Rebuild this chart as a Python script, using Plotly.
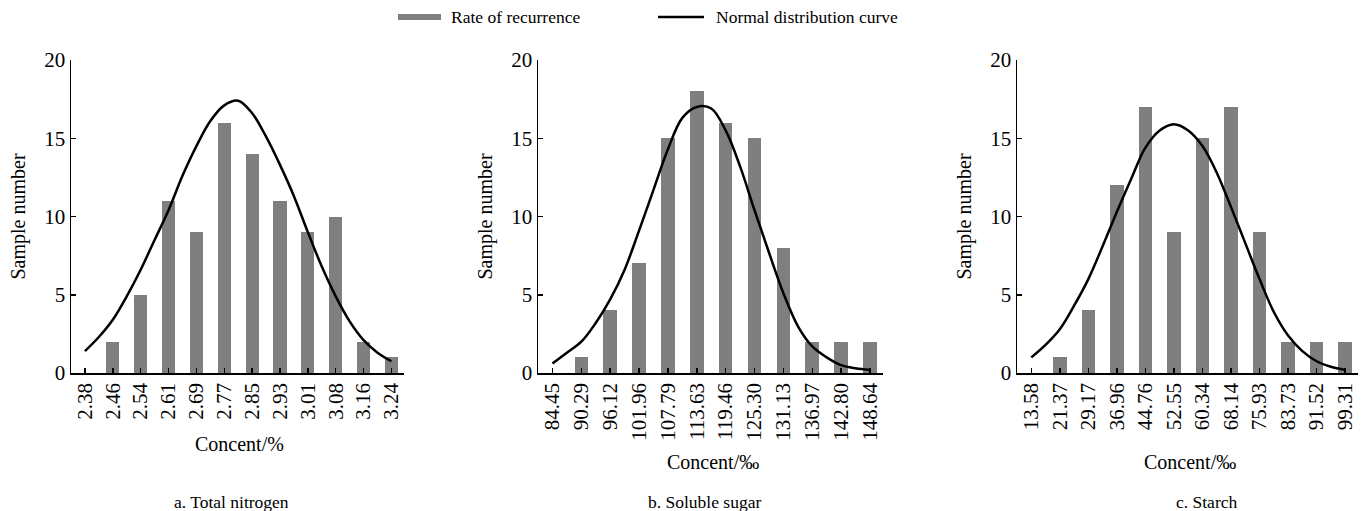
import plotly.graph_objects as go

W, H = 1367, 511

# ---- data ----
labels_a = ["2.38", "2.46", "2.54", "2.61", "2.69", "2.77", "2.85", "2.93", "3.01", "3.08", "3.16", "3.24"]
labels_b = ["84.45", "90.29", "96.12", "101.96", "107.79", "113.63", "119.46", "125.30", "131.13", "136.97", "142.80", "148.64"]
labels_c = ["13.58", "21.37", "29.17", "36.96", "44.76", "52.55", "60.34", "68.14", "75.93", "83.73", "91.52", "99.31"]

# bar counts (first category has no bar)
counts_a = [None, 2, 5, 11, 9, 16, 14, 11, 9, 10, 2, 1]
counts_b = [None, 1, 4, 7, 15, 18, 16, 15, 8, 2, 2, 2]
counts_c = [None, 1, 4, 12, 17, 9, 15, 17, 9, 2, 2, 2]

# normal curve values read at every half category step (0, 0.5, ..., 11)
curve_pos = [i / 2 for i in range(23)]
curve_a = [1.4, 2.3, 3.4, 4.9, 6.6, 8.5, 10.4, 12.6, 14.5, 16.1, 17.1, 17.4, 16.6, 15.1,
           13.3, 11.3, 9.0, 6.8, 4.9, 3.3, 2.1, 1.3, 0.75]
curve_b = [0.6, 1.3, 2.0, 3.2, 4.7, 6.6, 9.1, 11.7, 14.3, 16.3, 17.0, 16.9, 15.5, 13.2,
           10.4, 7.7, 5.1, 3.0, 1.7, 1.0, 0.5, 0.3, 0.2]
curve_c = [1.0, 1.8, 2.8, 4.3, 6.0, 8.1, 10.3, 12.4, 14.4, 15.5, 15.9, 15.5, 14.5, 12.8,
           10.6, 8.3, 6.0, 3.9, 2.4, 1.4, 0.75, 0.4, 0.2]

subtitles = ["a. Total nitrogen", "b. Soluble sugar", "c. Starch"]
xtitles = ["Concent/%", "Concent/‰", "Concent/‰"]
ytitle = "Sample number"
legend_names = ["Rate of recurrence", "Normal distribution curve"]

BAR_COLOR = "#7f7f7f"
FONT = "'Liberation Serif', 'Times New Roman', 'DejaVu Serif', serif"

panels = [
    (labels_a, counts_a, curve_a, (71, 404)),
    (labels_b, counts_b, curve_b, (538, 883)),
    (labels_c, counts_c, curve_c, (1017, 1358)),
]
PLOT_TOP, PLOT_BOT = 60, 373


def px(x):
    return x / W


def py(y):
    return 1 - y / H


fig = go.Figure()
layout = dict(
    width=W, height=H,
    margin=dict(l=0, r=0, t=0, b=0, autoexpand=False),
    plot_bgcolor="white", paper_bgcolor="white",
    showlegend=False,
    font=dict(family=FONT, color="black", size=20),
    bargap=0,
)

annotations = []
shapes = []

for k, (labels, counts, curve, (x0, x1)) in enumerate(panels):
    sfx = "" if k == 0 else str(k + 1)
    idx = list(range(len(labels)))
    fig.add_trace(go.Bar(
        x=idx, y=counts, width=0.47, marker=dict(color=BAR_COLOR, line=dict(width=0)),
        xaxis="x" + sfx, yaxis="y" + sfx, name=legend_names[0],
    ))
    fig.add_trace(go.Scatter(
        x=curve_pos, y=curve, mode="lines",
        line=dict(color="black", width=2.5, shape="spline", smoothing=1.0),
        xaxis="x" + sfx, yaxis="y" + sfx, name=legend_names[1],
    ))
    layout["xaxis" + sfx] = dict(
        domain=[px(x0), px(x1)], anchor="y" + sfx, automargin=False,
        range=[-0.5, 11.45], tickmode="array", tickvals=idx, ticktext=labels,
        tickangle=-90, ticks="inside", ticklen=5, tickwidth=1.5, tickcolor="black",
        showline=True, linecolor="black", linewidth=1.5, showgrid=False, zeroline=False,
        tickfont=dict(size=21, family=FONT), fixedrange=True,
    )
    layout["yaxis" + sfx] = dict(
        domain=[py(PLOT_BOT), py(PLOT_TOP)], anchor="x" + sfx, automargin=False,
        range=[0, 20], tickvals=[0, 5, 10, 15, 20],
        ticks="inside", ticklen=5, tickwidth=1.5, tickcolor="black",
        showline=True, linecolor="black", linewidth=1.5, showgrid=False, zeroline=False,
        tickfont=dict(size=21, family=FONT), fixedrange=True,
    )
    # axis titles
    annotations.append(dict(
        text=ytitle, xref="paper", yref="paper", x=px(x0 - 53), y=py((PLOT_TOP + PLOT_BOT) / 2),
        textangle=-90, showarrow=False, font=dict(size=20, family=FONT),
        xanchor="center", yanchor="middle",
    ))
    xt_y = 444 if k == 0 else 462
    annotations.append(dict(
        text=xtitles[k], xref="paper", yref="paper", x=px((x0 + x1) / 2 + 2), y=py(xt_y),
        showarrow=False, font=dict(size=20, family=FONT), xanchor="center", yanchor="middle",
    ))
    sub_x = [231, 704, 1206][k]
    annotations.append(dict(
        text=subtitles[k], xref="paper", yref="paper", x=px(sub_x), y=py(502),
        showarrow=False, font=dict(size=17.5, family=FONT), xanchor="center", yanchor="middle",
    ))

# manual legend
shapes.append(dict(type="rect", xref="paper", yref="paper",
                   x0=px(398), x1=px(441), y0=py(20), y1=py(14),
                   fillcolor=BAR_COLOR, line=dict(width=0)))
shapes.append(dict(type="line", xref="paper", yref="paper",
                   x0=px(658), x1=px(704), y0=py(17), y1=py(17),
                   line=dict(color="black", width=2.5)))
annotations.append(dict(text=legend_names[0], xref="paper", yref="paper", x=px(449), y=py(17),
                        showarrow=False, xanchor="left", yanchor="middle",
                        font=dict(size=17.5, family=FONT)))
annotations.append(dict(text=legend_names[1], xref="paper", yref="paper", x=px(714), y=py(17),
                        showarrow=False, xanchor="left", yanchor="middle",
                        font=dict(size=17.5, family=FONT)))

layout["annotations"] = annotations
layout["shapes"] = shapes
fig.update_layout(**layout)
fig.write_html("out.html", config={"displayModeBar": False, "staticPlot": True},
               post_script="document.body.style.margin='0px';")
